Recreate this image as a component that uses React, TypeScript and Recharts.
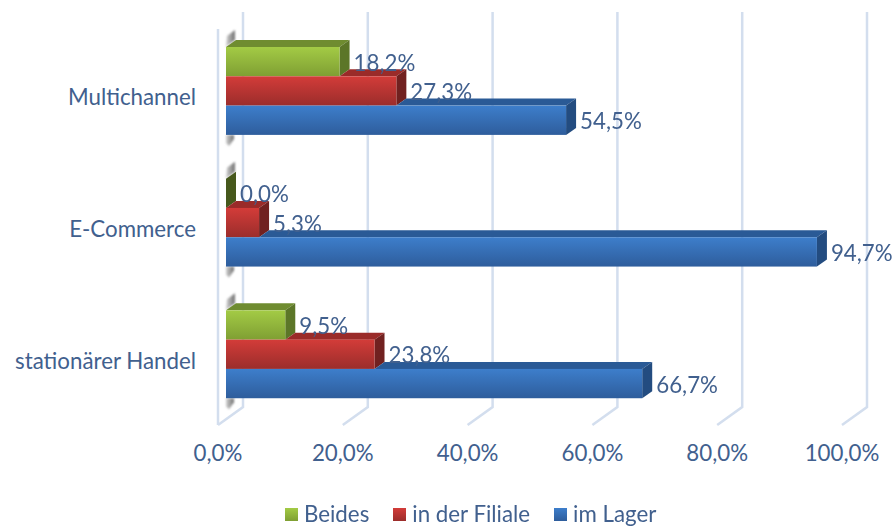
import React from "react";
import { BarChart, Bar, XAxis, YAxis, CartesianGrid, LabelList, Legend } from "recharts";

const categories = ["Multichannel", "E-Commerce", "stationärer Handel"];
const beides = [18.2, 0, 9.5];
const filiale = [27.3, 5.3, 23.8];
const lager = [54.5, 94.7, 66.7];
const xTicks = [0, 20, 40, 60, 80, 100];
const seriesNames = ["Beides", "in der Filiale", "im Lager"];

const rows = categories.map((name, i) => ({
  name,
  beides: beides[i],
  filiale: filiale[i],
  lager: lager[i],
}));

const TEXT = "#41608e";
const FONT = "Lato, Carlito, sans-serif";
const FS = 22.3;
const GRID = "#d3deee";
const SHIFT = 8;
const DX = 10;
const DY = 7;

const fmt = (v: number) => `${v.toFixed(1).replace(".", ",")}%`;

type Pal = { id: string; top: string; side: string; zero: string; a: string; b: string };
const green: Pal = { id: "gGreen", top: "#6f8c30", side: "#5c7628", zero: "#46581c", a: "#a3cb45", b: "#7f9f33" };
const red: Pal = { id: "gRed", top: "#9a2b29", side: "#712120", zero: "#712120", a: "#d33c39", b: "#9b2d2b" };
const blue: Pal = { id: "gBlue", top: "#2a5a96", side: "#234c80", zero: "#234c80", a: "#3d7ecb", b: "#2e5d9c" };

// The bar above hides the part of the top face it stands on, so the face starts where that bar ends.
const makeShape = (p: Pal, own: string, above: string | null, shadow: "above" | "below" | null) => (props: any) => {
  const x = props.x + SHIFT;
  const { y, width: w, height: h, payload } = props;
  const start = above ? (w * payload[above]) / payload[own] : 0;
  return (
    <g>
      {shadow === "above" && (
        <polygon
          points={`${x},${y} ${x + DX - 1},${y - DY} ${x + DX - 1},${y - 17} ${x + 1},${y - 11}`}
          fill="url(#gShadow)"
          filter="url(#softEdge)"
        />
      )}
      {shadow === "below" && (
        <polygon
          points={`${x},${y + h} ${x + DX - 2},${y + h} ${x + DX - 2},${y + h + 4} ${x + 3},${y + h + 11} ${x},${y + h + 8}`}
          fill="url(#gShadow)"
          filter="url(#softEdge)"
        />
      )}
      <polygon
        points={`${x + start},${y} ${x + start + DX},${y - DY} ${x + w + DX},${y - DY} ${x + w},${y}`}
        fill={p.top}
      />
      <polygon
        points={`${x + w},${y} ${x + w + DX},${y - DY} ${x + w + DX},${y + h - DY} ${x + w},${y + h}`}
        fill={w < 1 ? p.zero : p.side}
      />
      <rect x={x} y={y} width={w} height={h} fill={`url(#${p.id})`} />
    </g>
  );
};

const ValueLabel = (props: any) => {
  const { x, y, width, height, value } = props;
  return (
    <text
      x={x + width + SHIFT + 14}
      y={y + height / 2 + 9}
      fill={TEXT}
      fontSize={FS}
      fontFamily={FONT}
      textAnchor="start"
    >
      {fmt(value)}
    </text>
  );
};

const GridLine = (props: any) => {
  const { x1, y1, y2, index } = props;
  const back = x1 + 25;
  return (
    <g fill="none" stroke={GRID} strokeWidth={2.5}>
      <path d={`M${back},${y1 - 13} L${back},${y2 - 13} L${x1},${y2 + 5}`} />
      {index === 0 && <path d={`M${x1},${y1 + 4} L${x1},${y2 + 5}`} />}
    </g>
  );
};

const swatches = [
  "linear-gradient(#a3cb45,#7f9f33)",
  "linear-gradient(#d33c39,#9b2d2b)",
  "linear-gradient(#3d7ecb,#2e5d9c)",
];

const LegendBox = () => (
  <div style={{ display: "flex", justifyContent: "flex-start", paddingLeft: 285, fontFamily: FONT, fontSize: FS, color: TEXT, lineHeight: "26px" }}>
    {seriesNames.map((n, i) => (
      <div key={n} style={{ display: "flex", alignItems: "center", marginRight: 24 }}>
        <span style={{ width: 13, height: 13, flexShrink: 0, background: swatches[i], marginRight: 6, display: "inline-block" }} />
        <span style={{ whiteSpace: "nowrap" }}>{n}</span>
      </div>
    ))}
  </div>
);

const NoMark = () => <g />;

export default function App() {
  return (
    <div style={{ position: "absolute", left: 0, top: 0, width: 895, height: 526, background: "#fff", filter: "blur(0.4px)" }}>
      <BarChart
        width={895}
        height={526}
        data={rows}
        layout="vertical"
        barSize={29.3}
        barGap={0}
        margin={{ top: 25, right: 53, bottom: 30, left: 0 }}
      >
        <defs>
          {[green, red, blue].map((p) => (
            <linearGradient key={p.id} id={p.id} x1="0" y1="0" x2="0" y2="1">
              <stop offset="0" stopColor={p.a} />
              <stop offset="1" stopColor={p.b} />
            </linearGradient>
          ))}
          <linearGradient id="gShadow" x1="0" y1="0" x2="1" y2="0">
            <stop offset="0" stopColor="#d0d0d0" />
            <stop offset="1" stopColor="#707070" />
          </linearGradient>
          <filter id="softEdge" x="-50%" y="-50%" width="200%" height="200%">
            <feGaussianBlur stdDeviation="1.3" />
          </filter>
        </defs>
        <CartesianGrid horizontal={false} vertical={GridLine as any} />
        <XAxis
          type="number"
          domain={[0, 100]}
          ticks={xTicks}
          interval={0}
          tickFormatter={fmt}
          axisLine={false}
          tickLine={false}
          tickSize={0}
          tickMargin={25}
          height={50}
          tick={{ fill: TEXT, fontSize: FS, fontFamily: FONT }}
        />
        <YAxis
          type="category"
          dataKey="name"
          width={218}
          axisLine={false}
          tickLine={false}
          tickSize={0}
          tickMargin={22}
          tick={{ fill: TEXT, fontSize: FS, fontFamily: FONT, dy: 6.5 }}
        />
        <Legend
          content={<LegendBox />}
          layout="horizontal"
          verticalAlign="bottom"
          wrapperStyle={{ left: 0, top: 501, width: 895, height: 26 }}
        />
        <Bar dataKey="beides" name={seriesNames[0]} isAnimationActive={false} shape={makeShape(green, "beides", null, "above")} />
        <Bar dataKey="filiale" name={seriesNames[1]} isAnimationActive={false} shape={makeShape(red, "filiale", "beides", null)} />
        <Bar dataKey="lager" name={seriesNames[2]} isAnimationActive={false} shape={makeShape(blue, "lager", "filiale", "below")} />
      </BarChart>
      <div style={{ position: "absolute", left: 0, top: 0, pointerEvents: "none" }}>
        <BarChart
          width={895}
          height={526}
          data={rows}
          layout="vertical"
          barSize={29.3}
          barGap={0}
          margin={{ top: 25, right: 53, bottom: 106, left: 218 }}
        >
          <XAxis type="number" domain={[0, 100]} hide />
          <YAxis type="category" dataKey="name" hide />
          <Bar dataKey="beides" isAnimationActive={false} shape={NoMark}>
            <LabelList dataKey="beides" content={ValueLabel} />
          </Bar>
          <Bar dataKey="filiale" isAnimationActive={false} shape={NoMark}>
            <LabelList dataKey="filiale" content={ValueLabel} />
          </Bar>
          <Bar dataKey="lager" isAnimationActive={false} shape={NoMark}>
            <LabelList dataKey="lager" content={ValueLabel} />
          </Bar>
        </BarChart>
      </div>
    </div>
  );
}
